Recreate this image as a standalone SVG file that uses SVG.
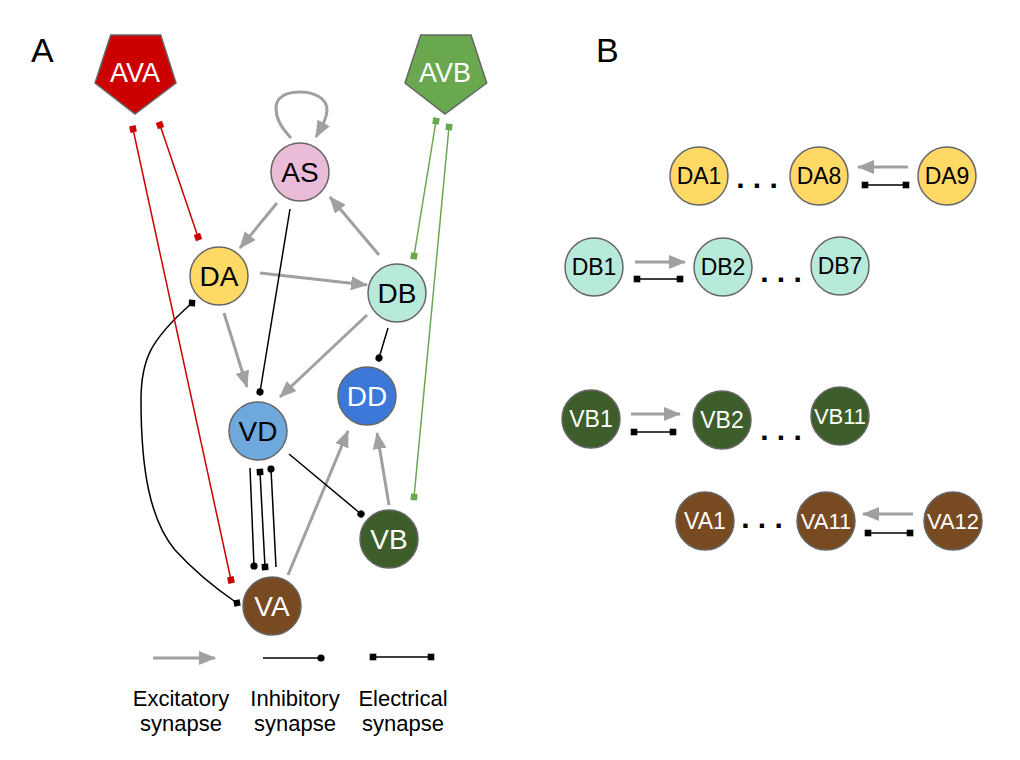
<svg xmlns="http://www.w3.org/2000/svg" width="1020" height="760" viewBox="0 0 1020 760">
<style>
.n{stroke:#666;stroke-width:1.5}
.t{font-family:"Liberation Sans",Arial,sans-serif;font-size:28px;text-anchor:middle}
.tb{font-family:"Liberation Sans",Arial,sans-serif;font-size:23px;text-anchor:middle}
.w{fill:#fff}
.k{fill:#000}
.ex{stroke:#a0a0a0;stroke-width:3;fill:none;marker-end:url(#arr)}
.in{stroke:#000;stroke-width:1.5;fill:none;marker-end:url(#dot)}
.el{stroke:#000;stroke-width:1.5;fill:none;marker-start:url(#sq);marker-end:url(#sq)}
.elr{stroke:#cc0000;stroke-width:1.5;fill:none;marker-start:url(#sqr);marker-end:url(#sqr)}
.elg{stroke:#6aa84f;stroke-width:1.5;fill:none;marker-start:url(#sqg);marker-end:url(#sqg)}
.dm{stroke:#000;stroke-width:1.5;fill:none;marker-start:url(#dia);marker-end:url(#dia)}
.lg{font-family:"Liberation Sans",Arial,sans-serif;font-size:22px;text-anchor:middle;fill:#000}
.dots{font-family:"Liberation Sans",Arial,sans-serif;font-size:30px;font-weight:bold;text-anchor:middle;fill:#000}
.pl{font-family:"Liberation Sans",Arial,sans-serif;font-size:34px;fill:#000}
</style>
<defs>
<marker id="arr" viewBox="0 0 17 14" refX="16" refY="7" markerWidth="17" markerHeight="14" orient="auto" markerUnits="userSpaceOnUse"><path d="M0,0 L17,7 L0,14 z" fill="#a0a0a0"/></marker>
<marker id="dot" viewBox="-4 -4 8 8" refX="0" refY="0" markerWidth="8" markerHeight="8" orient="auto" markerUnits="userSpaceOnUse"><circle r="3.6" fill="#000"/></marker>
<marker id="sq" viewBox="-4 -4 8 8" refX="0" refY="0" markerWidth="8" markerHeight="8" orient="auto" markerUnits="userSpaceOnUse"><rect x="-3.3" y="-3.3" width="6.6" height="6.6" fill="#000"/></marker>
<marker id="sqr" viewBox="-4 -4 8 8" refX="0" refY="0" markerWidth="8" markerHeight="8" orient="auto" markerUnits="userSpaceOnUse"><rect x="-3.3" y="-3.3" width="6.6" height="6.6" fill="#cc0000"/></marker>
<marker id="sqg" viewBox="-4 -4 8 8" refX="0" refY="0" markerWidth="8" markerHeight="8" orient="auto" markerUnits="userSpaceOnUse"><rect x="-3.3" y="-3.3" width="6.6" height="6.6" fill="#6aa84f"/></marker>
<marker id="dia" viewBox="-5 -5 10 10" refX="0" refY="0" markerWidth="10" markerHeight="10" orient="auto" markerUnits="userSpaceOnUse"><path d="M-4.5,0 L0,-4.5 L4.5,0 L0,4.5 z" fill="#000"/></marker>
</defs>
<rect width="1020" height="760" fill="#fff"/>
<text class="pl" x="31" y="62">A</text>
<text class="pl" x="596" y="62">B</text>

<g id="connectors">
<path class="ex" d="M277,203 L240,248"/>
<path class="ex" d="M379,255 L330,197"/>
<path class="ex" d="M291,138 C280,126 276,118 276,108 C276,96 288,92 300,92 C314,92 327,98 327,110 C327,118 322,126 316,137"/>
<path class="ex" d="M260,273 L367,285"/>
<path class="ex" d="M224,313 L247,387"/>
<path class="ex" d="M367,315 L280,397"/>
<path class="ex" d="M288,575 L348,431"/>
<path class="ex" d="M389,505 L377,433"/>
<path class="in" d="M290,209 L260,392"/>
<path class="in" d="M388,328 L379,358"/>
<path class="in" d="M289,454 L361,514"/>
<path class="in" d="M250,468 L254,566"/>
<path class="in" d="M276,567 L271,469"/>
<path class="el" d="M260,472 L265,567"/>
<path class="dm" d="M192,303 C150,340 141,360 141,400 C141,470 150,520 175,550 C195,572 215,588 237,603"/>
<path class="elr" d="M160,125 L198,237"/>
<path class="elr" d="M133,129 L231,580"/>
<path class="elg" d="M436,121 L414,256"/>
<path class="elg" d="M449,127 L414,497"/>
<path class="ex" d="M908,167 L858,167"/>
<path class="el" d="M865,185 L906,185"/>
<path class="ex" d="M635,262 L685,262"/>
<path class="el" d="M637,279 L680,279"/>
<path class="ex" d="M631,414 L680,414"/>
<path class="el" d="M634,432 L673,432"/>
<path class="ex" d="M913,514 L863,514"/>
<path class="el" d="M868,533 L910,533"/>
</g>

<g id="legend">
<path class="ex" d="M153,658 L215,658"/>
<path class="in" d="M263,658 L321,658"/>
<path class="el" d="M373,657 L431,657"/>
<text class="lg" x="181" y="706">Excitatory</text>
<text class="lg" x="181" y="731">synapse</text>
<text class="lg" x="295" y="706">Inhibitory</text>
<text class="lg" x="295" y="731">synapse</text>
<text class="lg" x="403" y="706">Electrical</text>
<text class="lg" x="403" y="731">synapse</text>
</g>

<g id="AVA"><polygon class="n" points="110.7,35 160.7,35 176,83 135,114 95,83" fill="#cc0000"/><text class="t w" x="135" y="82" style="font-size:27px">AVA</text></g>
<g id="AVB"><polygon class="n" points="420.7,35 471,35 486.7,83 445,114 405,83" fill="#6aa84f"/><text class="t w" x="445" y="82" style="font-size:27px">AVB</text></g>
<g id="AS"><circle class="n" cx="300" cy="172" r="29" fill="#eabcd7"/><text class="t k" x="300" y="182">AS</text></g>
<g id="DA"><circle class="n" cx="219" cy="276" r="29" fill="#ffd966"/><text class="t k" x="219" y="286">DA</text></g>
<g id="DB"><circle class="n" cx="397" cy="293" r="29" fill="#b8eadc"/><text class="t k" x="397" y="303">DB</text></g>
<g id="DD"><circle class="n" cx="367" cy="396" r="29" fill="#3c78d8"/><text class="t w" x="367" y="406">DD</text></g>
<g id="VD"><circle class="n" cx="258" cy="431" r="29" fill="#6fa8dc"/><text class="t k" x="258" y="441">VD</text></g>
<g id="VB"><circle class="n" cx="389" cy="539" r="29" fill="#3d5e2b"/><text class="t w" x="389" y="549">VB</text></g>
<g id="VA"><circle class="n" cx="272" cy="606" r="29" fill="#784a21"/><text class="t w" x="272" y="616">VA</text></g>

<g id="DA1"><circle class="n" cx="699" cy="176" r="29" fill="#ffd966"/><text class="tb k" x="699" y="184">DA1</text></g>
<g id="DA8"><circle class="n" cx="819" cy="176" r="29" fill="#ffd966"/><text class="tb k" x="819" y="184">DA8</text></g>
<g id="DA9"><circle class="n" cx="947" cy="176" r="29" fill="#ffd966"/><text class="tb k" x="947" y="184">DA9</text></g>
<g id="DB1"><circle class="n" cx="594" cy="267" r="29" fill="#b8eadc"/><text class="tb k" x="594" y="275">DB1</text></g>
<g id="DB2"><circle class="n" cx="723" cy="267" r="29" fill="#b8eadc"/><text class="tb k" x="723" y="275">DB2</text></g>
<g id="DB7"><circle class="n" cx="840" cy="266" r="29" fill="#b8eadc"/><text class="tb k" x="840" y="274">DB7</text></g>
<g id="VB1"><circle class="n" cx="591" cy="419" r="29" fill="#3d5e2b"/><text class="tb w" x="591" y="427">VB1</text></g>
<g id="VB2"><circle class="n" cx="722" cy="420" r="29" fill="#3d5e2b"/><text class="tb w" x="722" y="428">VB2</text></g>
<g id="VB11"><circle class="n" cx="840" cy="416" r="29" fill="#3d5e2b"/><text class="tb w" x="840" y="424" style="font-size:22px">VB11</text></g>
<g id="VA1"><circle class="n" cx="705" cy="521" r="29" fill="#784a21"/><text class="tb w" x="705" y="529">VA1</text></g>
<g id="VA11"><circle class="n" cx="826" cy="521" r="29" fill="#784a21"/><text class="tb w" x="826" y="529" style="font-size:22px">VA11</text></g>
<g id="VA12"><circle class="n" cx="953" cy="521" r="29" fill="#784a21"/><text class="tb w" x="953" y="529" style="font-size:22px">VA12</text></g>

<g id="ellipses">
<text class="dots" x="757" y="188">. . .</text>
<text class="dots" x="781" y="282">. . .</text>
<text class="dots" x="781" y="440">. . .</text>
<text class="dots" x="762" y="528">. . .</text>
</g>
</svg>
